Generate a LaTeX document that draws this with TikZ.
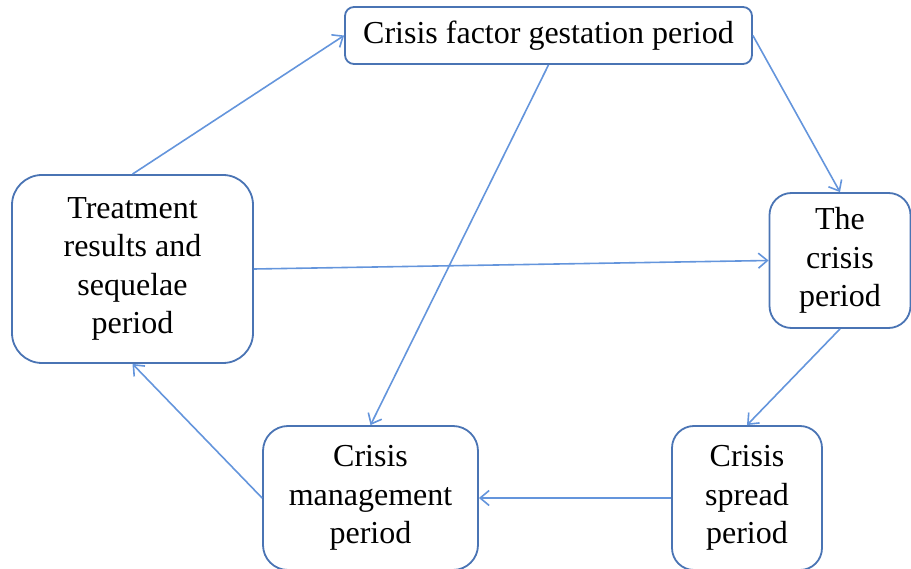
\documentclass[tikz,border=0pt]{standalone}
\usepackage{fontspec}
\setmainfont{Liberation Serif}
\usepackage{tikz}
\usetikzlibrary{arrows.meta}
\definecolor{boxblue}{HTML}{4A74B4}
\definecolor{arrblue}{HTML}{6495DC}

\begin{document}
\begin{tikzpicture}[
    x=1pt, y=-1pt,
    font=\fontsize{32}{38.5}\selectfont,
    % period boxes
    box/.style={rectangle, draw=boxblue, line width=1.8pt, fill=white, align=center, inner sep=0pt},
    edge/.style={draw=arrblue, line width=1.6pt, -{Straight Barb[length=9pt,width=15pt,line width=1.6pt]}},
]
\useasboundingbox (0,0) rectangle (911,569);

% =========================================================
% period boxes
% =========================================================
\node[box, rounded corners=9pt,  minimum width=407pt, minimum height=57pt]  (gest)  at (548.5, 35.5) {Crisis factor gestation period};
\node[box, rounded corners=30pt, minimum width=241pt, minimum height=188pt] (treat) at (132.5, 269)  {Treatment\\results and\\sequelae\\period};
\node[box, rounded corners=22pt, minimum width=141pt, minimum height=135pt] (crisis) at (840, 260.5) {The\\crisis\\period};
\node[box, rounded corners=25pt, minimum width=215pt, minimum height=144pt] (manage) at (370.5, 498) {Crisis\\management\\period};
\node[box, rounded corners=22pt, minimum width=150pt, minimum height=144pt] (spread) at (747, 498) {Crisis\\spread\\period};

% =========================================================
% connectors
% =========================================================
\draw[edge] (treat.north) -- (gest.west);
\draw[edge] (gest.east) -- (crisis.north);
\draw[edge] (gest.south) -- (manage.north);
\draw[edge] (treat.east) -- (crisis.west);
\draw[edge] (crisis.south) -- (spread.north);
\draw[edge] (spread.west) -- (manage.east);
\draw[edge] (manage.west) -- (treat.south);

\end{tikzpicture}
\end{document}
